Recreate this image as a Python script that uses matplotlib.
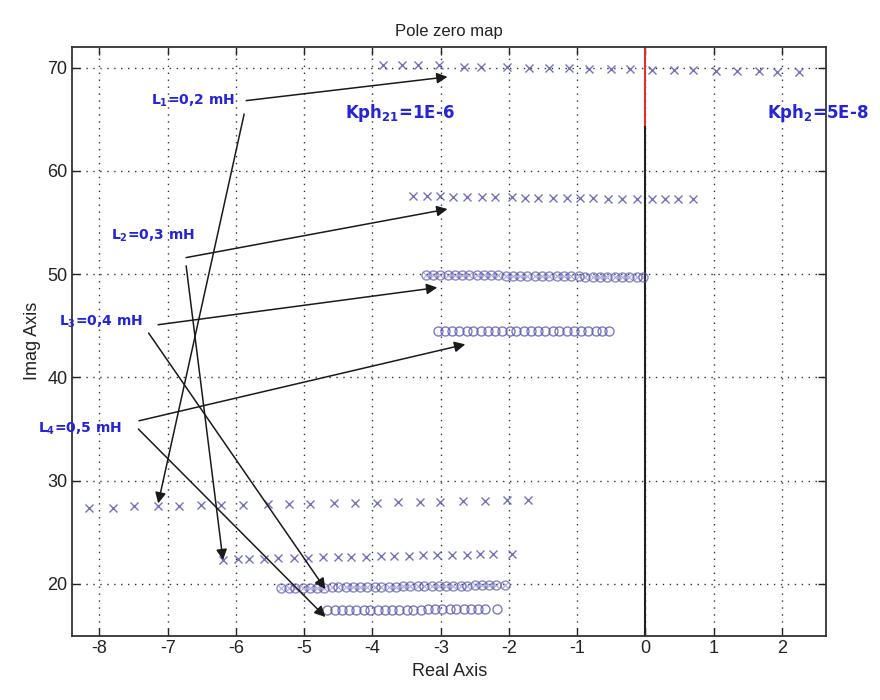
import numpy as np
import matplotlib
matplotlib.use('Agg')
import matplotlib.pyplot as plt

plt.rcParams['font.family'] = ['Liberation Sans', 'DejaVu Sans']
plt.rcParams['mathtext.fontset'] = 'dejavusans'

# pole rows for Kph2 = 5E-8 (upper branch) and Kph21 = 1E-6
row_a_re = [-3.85, -3.57, -3.33, -3.02, -2.66, -2.41, -2.03, -1.71, -1.42, -1.12, -0.83,
            -0.50, -0.23, 0.10, 0.42, 0.69, 1.04, 1.34, 1.66, 1.93, 2.25]
row_a_im = [70.2, 70.2, 70.2, 70.2, 70.1, 70.1, 70.1, 70.0, 70.0, 70.0, 69.9,
            69.9, 69.9, 69.8, 69.8, 69.8, 69.7, 69.7, 69.7, 69.6, 69.6]

row_b_re = [-3.40, -3.20, -3.01, -2.82, -2.61, -2.39, -2.20, -1.95, -1.77, -1.58, -1.36,
            -1.15, -0.96, -0.77, -0.55, -0.34, -0.13, 0.09, 0.28, 0.47, 0.69]
row_b_im = [57.6, 57.6, 57.6, 57.5, 57.5, 57.5, 57.5, 57.5, 57.4, 57.4, 57.4,
            57.4, 57.4, 57.4, 57.3, 57.3, 57.3, 57.3, 57.3, 57.3, 57.3]

row_c_re = [-3.22, -3.12, -3.01, -2.90, -2.79, -2.69, -2.58, -2.47, -2.37, -2.26, -2.16,
            -2.05, -1.94, -1.84, -1.73, -1.62, -1.52, -1.41, -1.30, -1.20, -1.09, -0.98,
            -0.88, -0.77, -0.66, -0.56, -0.45, -0.34, -0.24, -0.13, -0.03]
row_c_im = [49.9, 49.9, 49.9, 49.9, 49.9, 49.9, 49.9, 49.9, 49.9, 49.9, 49.9,
            49.8, 49.8, 49.8, 49.8, 49.8, 49.8, 49.8, 49.8, 49.8, 49.8, 49.8,
            49.7, 49.7, 49.7, 49.7, 49.7, 49.7, 49.7, 49.7, 49.7]

row_d_re = [-3.04, -2.94, -2.83, -2.73, -2.62, -2.52, -2.41, -2.31, -2.20, -2.10, -1.99,
            -1.89, -1.78, -1.68, -1.57, -1.47, -1.36, -1.26, -1.15, -1.05, -0.94, -0.84,
            -0.73, -0.63, -0.53]
row_d_im = [44.5, 44.5, 44.5, 44.5, 44.5, 44.5, 44.5, 44.5, 44.5, 44.5, 44.5,
            44.5, 44.5, 44.5, 44.5, 44.5, 44.5, 44.5, 44.5, 44.5, 44.5, 44.5,
            44.5, 44.5, 44.5]

row_e_re = [-8.15, -7.80, -7.49, -7.14, -6.83, -6.51, -6.22, -5.90, -5.53, -5.23, -4.91,
            -4.57, -4.25, -3.93, -3.62, -3.30, -3.01, -2.67, -2.35, -2.03, -1.72]
row_e_im = [27.4, 27.4, 27.5, 27.5, 27.5, 27.6, 27.6, 27.6, 27.7, 27.7, 27.7,
            27.8, 27.8, 27.8, 27.9, 27.9, 27.9, 28.0, 28.0, 28.1, 28.1]

row_f_re = [-6.19, -5.97, -5.81, -5.59, -5.39, -5.15, -4.95, -4.73, -4.51, -4.32, -4.10,
            -3.88, -3.69, -3.47, -3.26, -3.05, -2.83, -2.61, -2.42, -2.23, -1.96]
row_f_im = [22.3, 22.4, 22.4, 22.4, 22.5, 22.5, 22.5, 22.6, 22.6, 22.6, 22.6,
            22.7, 22.7, 22.7, 22.8, 22.8, 22.8, 22.8, 22.9, 22.9, 22.9]

row_g_re = [-5.34, -5.23, -5.13, -5.02, -4.92, -4.81, -4.71, -4.60, -4.50, -4.39, -4.29,
            -4.18, -4.08, -3.97, -3.87, -3.76, -3.66, -3.55, -3.45, -3.34, -3.24, -3.13,
            -3.03, -2.92, -2.82, -2.71, -2.61, -2.50, -2.40, -2.29, -2.19, -2.06]
row_g_im = [19.6, 19.6, 19.6, 19.6, 19.6, 19.6, 19.6, 19.7, 19.7, 19.7, 19.7,
            19.7, 19.7, 19.7, 19.7, 19.7, 19.7, 19.8, 19.8, 19.8, 19.8, 19.8,
            19.8, 19.8, 19.8, 19.8, 19.8, 19.9, 19.9, 19.9, 19.9, 19.9]

row_h_re = [-4.66, -4.55, -4.45, -4.34, -4.24, -4.13, -4.03, -3.92, -3.82, -3.71, -3.61,
            -3.50, -3.40, -3.29, -3.19, -3.08, -2.98, -2.87, -2.77, -2.66, -2.56, -2.45,
            -2.35, -2.18]
row_h_im = [17.5, 17.5, 17.5, 17.5, 17.5, 17.5, 17.5, 17.5, 17.5, 17.5, 17.5,
            17.5, 17.5, 17.5, 17.6, 17.6, 17.6, 17.6, 17.6, 17.6, 17.6, 17.6,
            17.6, 17.6]

x_ticks = [-8, -7, -6, -5, -4, -3, -2, -1, 0, 1, 2]
y_ticks = [20, 30, 40, 50, 60, 70]

pole_col = '#5a5ab4'
txt_col = '#2424d8'

fig = plt.figure(figsize=(8.8, 7.0), dpi=100)
ax = fig.add_axes([0.082, 0.092, 0.857, 0.841])

# imaginary axis: red above the top branch, black below
ax.plot([0, 0], [64.2, 72], color='#e03030', lw=1.5, zorder=2)
ax.plot([0, 0], [14, 64.2], color='#202020', lw=1.5, zorder=2)

for re, im in [(row_a_re, row_a_im), (row_b_re, row_b_im),
               (row_e_re, row_e_im), (row_f_re, row_f_im)]:
    ax.plot(re, im, 'x', color=pole_col, ms=6, mew=1.0, alpha=0.85, zorder=3)

# closely packed branches: poles and zeros overlap into a chain
for re, im in [(row_c_re, row_c_im), (row_g_re, row_g_im)]:
    ax.plot(re, im, 'o', color=pole_col, ms=6.5, mfc='none', mew=1.0, alpha=0.7, zorder=3)
    ax.plot(re, im, 'x', color=pole_col, ms=5, mew=0.8, alpha=0.5, zorder=3)
for re, im in [(row_d_re, row_d_im), (row_h_re, row_h_im)]:
    ax.plot(re, im, 'o', color=pole_col, ms=6.5, mfc='none', mew=1.0, alpha=0.8, zorder=3)

ax.set_xlim(-8.4, 2.65)
ax.set_ylim(15, 72)
ax.set_xticks(x_ticks)
ax.set_yticks(y_ticks)
ax.set_xticklabels([str(t) for t in x_ticks])
ax.tick_params(direction='in', top=True, right=True, length=6, width=1,
               labelsize=13, colors='#222222')
ax.grid(True, linestyle=(0, (1, 4)), color='#333333', lw=1.0)
for s in ax.spines.values():
    s.set_linewidth(1.3)
    s.set_color('#333333')

ax.set_title('Pole zero map', fontsize=12, color='#222222', pad=8)
ax.set_xlabel('Real Axis', fontsize=13, color='#222222', labelpad=4)
ax.set_ylabel('Imag Axis', fontsize=13, color='#222222', labelpad=4)

# inductance labels and arrows to each branch
lab = dict(color=txt_col, fontsize=10, fontweight='bold', ha='center', va='center',
           family=['DejaVu Sans'])
ax.text(-6.63, 66.8, r'L$_\mathbf{1}$=0,2 mH', **lab)
ax.text(-7.22, 53.7, r'L$_\mathbf{2}$=0,3 mH', **lab)
ax.text(-7.98, 45.4, r'L$_\mathbf{3}$=0,4 mH', **lab)
ax.text(-8.28, 35.0, r'L$_\mathbf{4}$=0,5 mH', **lab)
kph = dict(color=txt_col, fontsize=12, fontweight='bold', ha='center', va='center',
           family=['DejaVu Sans'], clip_on=False)
ax.text(-3.59, 65.6, r'Kph$_\mathbf{21}$=1E-6', **kph)
ax.text(2.52, 65.6, r'Kph$_\mathbf{2}$=5E-8', **kph)

arrows = [((-5.85, 66.8), (-2.9, 69.1)),
          ((-5.88, 65.5), (-7.14, 27.8)),
          ((-6.73, 51.6), (-2.9, 56.3)),
          ((-6.73, 50.8), (-6.19, 22.3)),
          ((-7.14, 45.1), (-3.05, 48.7)),
          ((-7.28, 44.3), (-4.69, 19.5)),
          ((-7.42, 35.8), (-2.64, 43.2)),
          ((-7.43, 35.0), (-4.69, 16.8))]
for p0, p1 in arrows:
    ax.annotate('', xy=p1, xytext=p0,
                arrowprops=dict(arrowstyle='-|>', color='#1a1a1a', lw=1.1,
                                mutation_scale=16, shrinkA=0, shrinkB=0),
                zorder=4)

fig.savefig('out.png', dpi=100)
